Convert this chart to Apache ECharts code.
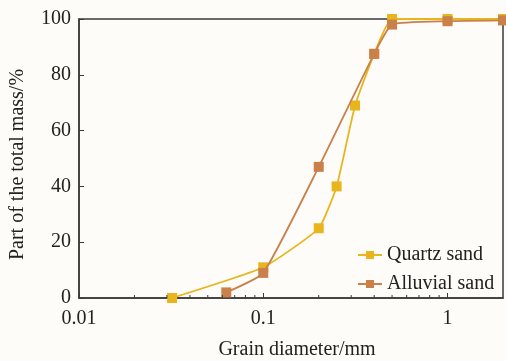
<!DOCTYPE html>
<html>
<head>
<meta charset="utf-8">
<script src="https://cdn.jsdelivr.net/npm/echarts@6/dist/echarts.min.js"></script>
<style>
html,body{margin:0;padding:0;background:#fdfcf8;}
#c{width:506px;height:361px;}
</style>
</head>
<body>
<div id="c"></div>
<script>
// Data
const quartzX = [0.032, 0.1, 0.2, 0.25, 0.315, 0.4, 0.5, 1, 2];
const quartzY = [0, 11, 25, 40, 69, 87.5, 100, 100, 100];
const alluvialX = [0.063, 0.1, 0.2, 0.4, 0.5, 1, 2];
const alluvialY = [2, 9, 47, 87.5, 98, 99.2, 99.5];
const yTicks = [0, 20, 40, 60, 80, 100];
const minorTicks = [0.02,0.03,0.04,0.05,0.06,0.07,0.08,0.09,0.2,0.3,0.4,0.5,0.6,0.7,0.8,0.9];

const font = '"Liberation Serif", "DejaVu Serif", serif';
const axisColor = '#3a3a3a';
const quartzColor = '#e8b51e';
const alluvialColor = '#c9804a';

const chart = echarts.init(document.getElementById('c'));
const zip = (xs, ys) => xs.map((x, i) => [x, ys[i]]);

chart.setOption({
  backgroundColor: '#fdfcf8',
  animation: false,
  grid: {left: 79, right: 3, top: 19, bottom: 63, show: true, borderColor: axisColor, borderWidth: 1.5,
         backgroundColor: 'transparent', containLabel: false, outerBoundsMode: 'none'},
  legend: {
    orient: 'vertical', left: 352, top: 240, itemGap: 9, itemWidth: 24, itemHeight: 10,
    textStyle: {fontFamily: font, fontSize: 20, color: '#222'},
    data: ['Quartz sand', 'Alluvial sand']
  },
  xAxis: {
    type: 'log', logBase: 10, min: 0.01, max: 2,
    name: 'Grain diameter/mm', nameLocation: 'middle', nameGap: 42,
    nameTextStyle: {fontFamily: font, fontSize: 20, color: '#222', padding: [0, 0, 0, 12]},
    axisLine: {lineStyle: {color: axisColor, width: 1.5}},
    axisTick: {inside: true, length: 5, lineStyle: {color: axisColor}},
    axisLabel: {fontFamily: font, fontSize: 20, color: '#222', margin: 11, showMaxLabel: false,
      formatter: v => String(v)},
    splitLine: {show: false}
  },
  yAxis: {
    type: 'value', min: 0, max: 100, interval: 20,
    name: 'Part of the total mass/%', nameLocation: 'middle', nameGap: 51,
    nameTextStyle: {fontFamily: font, fontSize: 20, color: '#222', padding: [0, 12, 0, 0]},
    axisLine: {lineStyle: {color: axisColor, width: 1.5}},
    axisTick: {inside: true, length: 5, lineStyle: {color: axisColor}},
    axisLabel: {fontFamily: font, fontSize: 20, color: '#222', margin: 8},
    splitLine: {show: false}
  },
  series: [
    {name: 'Quartz sand', type: 'line', data: zip(quartzX, quartzY), smooth: 0.15,
     symbol: 'rect', symbolSize: 10, color: quartzColor, lineStyle: {width: 1.8, color: quartzColor}, z: 2},
    {name: 'Alluvial sand', type: 'line', data: zip(alluvialX, alluvialY), smooth: 0.15,
     symbol: 'rect', symbolSize: 10, color: alluvialColor, lineStyle: {width: 1.8, color: alluvialColor}, z: 3}
  ]
});

// minor log ticks drawn through the axis scale
const yBase = chart.convertToPixel({yAxisIndex: 0}, 0);
const g = minorTicks.map(v => {
  const x = chart.convertToPixel({xAxisIndex: 0}, v);
  return {type: 'line', shape: {x1: x, y1: yBase, x2: x, y2: yBase - 3}, style: {stroke: axisColor, lineWidth: 1}, z: 10};
});
chart.setOption({graphic: g});
</script>
</body>
</html>
